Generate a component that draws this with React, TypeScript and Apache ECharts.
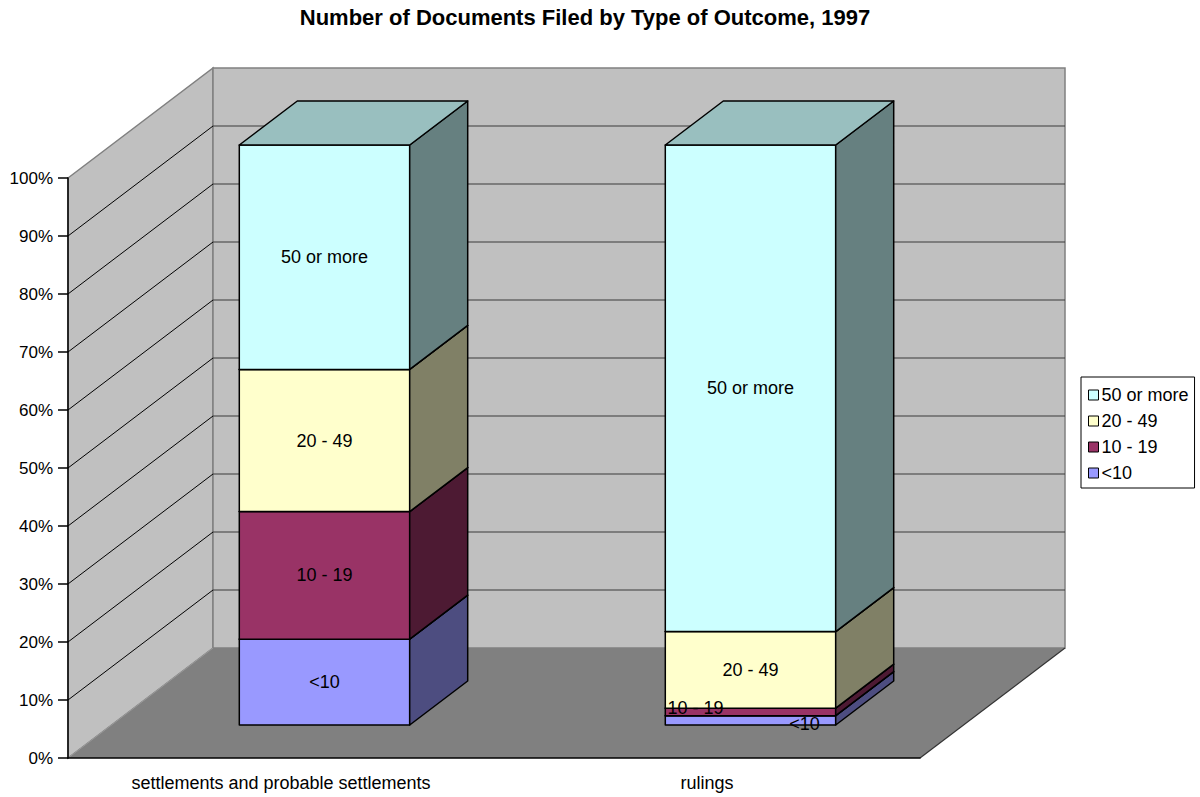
import React, { useEffect, useRef } from 'react';
import * as echarts from 'echarts';

// ---------- data ----------
const chartTitle = 'Number of Documents Filed by Type of Outcome, 1997';
const categories = ['settlements and probable settlements', 'rulings'];
const seriesNames = ['<10', '10 - 19', '20 - 49', '50 or more'];
const under10 = [14.8, 1.6];
const from10to19 = [22.0, 1.3];
const from20to49 = [24.5, 13.2];
const fiftyOrMore = [38.7, 83.9];
const yTicks = [0, 10, 20, 30, 40, 50, 60, 70, 80, 90, 100];
const legendOrder = ['50 or more', '20 - 49', '10 - 19', '<10'];

// ---------- style / layout ----------
const seriesValues = [under10, from10to19, from20to49, fiftyOrMore];
const seriesColors = ['#9999FF', '#993366', '#FFFFCC', '#CCFFFF'];
const FONT = '"Liberation Sans", Arial, Helvetica, sans-serif';
const DEPTH_DX = 145;
const DEPTH_DY = -110;
const FRONT_FRAC = 0.3;
const BAR_DEPTH_FRAC = 0.4;
const BAR_WIDTH_FRAC = 0.4;
// label nudges (Excel moved small labels aside), keyed by series then category index
const labelNudge: Record<string, Record<number, [number, number]>> = {
  '10 - 19': { 1: [-55, -4] },
  '<10': { 1: [54, 4] },
};

function shade(hex: string, f: number) {
  const n = parseInt(hex.slice(1), 16);
  const r = Math.round(((n >> 16) & 255) * f);
  const g = Math.round(((n >> 8) & 255) * f);
  const b = Math.round((n & 255) * f);
  return `rgb(${r},${g},${b})`;
}

function wallsRender(params: any, api: any) {
  const cs = params.coordSys;
  const x0 = cs.x;
  const x1 = cs.x + cs.width;
  const yB = api.coord([0, yTicks[0]])[1];
  const yT = api.coord([0, yTicks[yTicks.length - 1]])[1];
  const dx = DEPTH_DX;
  const dy = DEPTH_DY;
  const children: any[] = [
    {
      type: 'polygon',
      shape: { points: [[x0, yT], [x0 + dx, yT + dy], [x0 + dx, yB + dy], [x0, yB]] },
      style: { fill: '#C0C0C0', stroke: '#808080', lineWidth: 1.5 },
    },
    {
      type: 'rect',
      shape: { x: x0 + dx, y: yT + dy, width: x1 - x0, height: yB - yT },
      style: { fill: '#C0C0C0', stroke: '#808080', lineWidth: 1.5 },
    },
    {
      type: 'polygon',
      shape: { points: [[x0, yB], [x1, yB], [x1 + dx, yB + dy], [x0 + dx, yB + dy]] },
      style: { fill: '#808080' },
    },
    {
      type: 'line',
      shape: { x1: x1, y1: yB, x2: x1 + dx, y2: yB + dy },
      style: { stroke: '#333333', lineWidth: 1.2 },
    },
    {
      type: 'line',
      shape: { x1: x0, y1: yB, x2: x0 + dx, y2: yB + dy },
      style: { stroke: '#9a9a9a', lineWidth: 1 },
    },
  ];
  for (let i = 1; i < yTicks.length - 1; i++) {
    const y = api.coord([0, yTicks[i]])[1];
    children.push({
      type: 'line',
      shape: { x1: x0, y1: y, x2: x0 + dx, y2: y + dy },
      style: { stroke: '#000000', lineWidth: 1 },
    });
    children.push({
      type: 'line',
      shape: { x1: x0 + dx, y1: y + dy, x2: x1 + dx, y2: y + dy },
      style: { stroke: '#3a3a3a', lineWidth: 1.2 },
    });
  }
  return { type: 'group', children };
}

function makeBarRender(si: number) {
  const base = seriesColors[si];
  const name = seriesNames[si];
  return (params: any, api: any) => {
    const cat = api.value(0);
    const start = api.value(1);
    const end = api.value(2);
    const p0 = api.coord([cat, start]);
    const cx = p0[0];
    const yS0 = p0[1];
    const yE0 = api.coord([cat, end])[1];
    const band = api.size([1, 0])[0];
    const w = band * BAR_WIDTH_FRAC;
    const fx = DEPTH_DX * FRONT_FRAC;
    const fy = DEPTH_DY * FRONT_FRAC;
    const bdx = DEPTH_DX * BAR_DEPTH_FRAC;
    const bdy = DEPTH_DY * BAR_DEPTH_FRAC;
    const xl = cx - w / 2 + fx;
    const xr = cx + w / 2 + fx;
    const yS = yS0 + fy;
    const yE = yE0 + fy;
    const stroke = { stroke: '#000000', lineWidth: 1.5, lineJoin: 'round' };
    const nudge = (labelNudge[name] && labelNudge[name][cat]) || [0, 0];
    return {
      type: 'group',
      children: [
        {
          type: 'polygon',
          shape: { points: [[xl, yS], [xr, yS], [xr, yE], [xl, yE]] },
          style: { fill: base, ...stroke },
        },
        {
          type: 'polygon',
          shape: { points: [[xr, yE], [xr, yS], [xr + bdx, yS + bdy], [xr + bdx, yE + bdy]] },
          style: { fill: shade(base, 0.5), ...stroke },
        },
        {
          type: 'polygon',
          shape: { points: [[xl, yE], [xr, yE], [xr + bdx, yE + bdy], [xl + bdx, yE + bdy]] },
          style: { fill: shade(base, 0.75), ...stroke },
        },
        {
          type: 'text',
          z2: 100,
          x: (xl + xr) / 2 + nudge[0],
          y: (yS + yE) / 2 + nudge[1],
          style: {
            text: name,
            fill: '#000000',
            font: `18px ${FONT}`,
            align: 'center',
            verticalAlign: 'middle',
          },
        },
      ],
    };
  };
}

export default function App() {
  const ref = useRef<HTMLDivElement>(null);
  useEffect(() => {
    if (!ref.current) return;
    const chart = echarts.init(ref.current, null, { renderer: 'svg' });

    const barSeries = seriesNames.map((name, si) => {
      const data = categories.map((_, ci) => {
        let start = 0;
        for (let k = 0; k < si; k++) start += seriesValues[k][ci];
        return [ci, start, start + seriesValues[si][ci]];
      });
      return {
        type: 'custom',
        name,
        z: 2,
        clip: false,
        itemStyle: { color: seriesColors[si] },
        encode: { x: 0, y: [1, 2] },
        renderItem: makeBarRender(si),
        data,
      };
    });

    chart.setOption({
      animation: false,
      textStyle: { fontFamily: FONT },
      grid: { left: 68, top: 178, width: 852, height: 580, containLabel: false },
      graphic: [
        {
          type: 'text',
          x: 585,
          y: 17,
          style: {
            text: chartTitle,
            font: `bold 22px ${FONT}`,
            fill: '#000000',
            align: 'center',
            verticalAlign: 'middle',
          },
        },
      ],
      legend: {
        data: legendOrder,
        orient: 'vertical',
        left: 1081,
        top: 377,
        icon: 'rect',
        itemWidth: 10,
        itemHeight: 10,
        itemGap: 6,
        padding: [8, 6, 5, 7],
        backgroundColor: '#FFFFFF',
        borderColor: '#000000',
        borderWidth: 1,
        borderRadius: 0,
        itemStyle: { borderColor: '#000000', borderWidth: 1 },
        textStyle: { fontSize: 18, color: '#000000', fontFamily: FONT, lineHeight: 20, padding: [0, 0, 0, -2] },
      },
      xAxis: {
        type: 'category',
        data: categories,
        z: 5,
        axisLine: { lineStyle: { color: '#000000', width: 1.5 } },
        axisTick: { length: 9, lineStyle: { color: '#404040', width: 1 } },
        axisLabel: { color: '#000000', fontSize: 18, margin: 16, fontFamily: FONT },
        splitLine: { show: false },
      },
      yAxis: {
        type: 'value',
        min: 0,
        max: 100,
        interval: 10,
        z: 5,
        axisLine: { show: true, lineStyle: { color: '#000000', width: 1.5 } },
        axisTick: { show: true, length: 10, lineStyle: { color: '#000000', width: 1.5 } },
        axisLabel: {
          color: '#000000',
          fontSize: 17,
          margin: 15,
          fontFamily: FONT,
          formatter: (v: number) => `${v}%`,
        },
        splitLine: { show: false },
      },
      series: [
        {
          type: 'custom',
          name: 'walls',
          z: 1,
          clip: false,
          silent: true,
          renderItem: wallsRender,
          data: [[0, 0]],
          encode: { x: 0, y: 1 },
        },
        ...barSeries,
      ],
    });
    return () => chart.dispose();
  }, []);
  return (
    <div
      ref={ref}
      style={{ position: 'absolute', left: 0, top: 0, width: 1200, height: 797, background: '#FFFFFF' }}
    />
  );
}
